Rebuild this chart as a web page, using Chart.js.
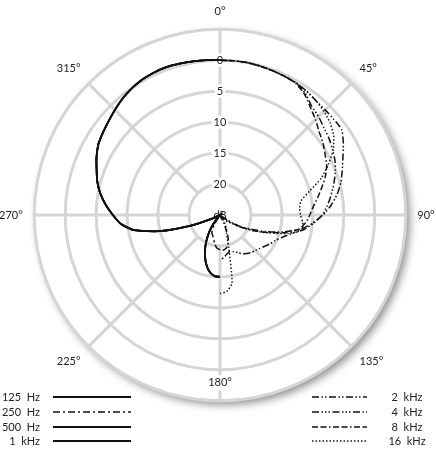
<!DOCTYPE html>
<html>
<head>
<meta charset="utf-8">
<script src="https://cdn.jsdelivr.net/npm/chart.js@4.4.0/dist/chart.umd.min.js"></script>
<style>
  html, body { margin: 0; padding: 0; background: #fff; overflow: hidden; }
  #wrap { position: relative; width: 436px; height: 450px; overflow: hidden; }
  /* canvas un peu plus grand que la fenêtre pour laisser la place aux étiquettes */
  #polar { position: absolute; left: -4px; top: -15px; }
  .legText { position: absolute; font: 11px Lato, sans-serif; color: #222; white-space: pre; height: 14px; line-height: 14px; }
  .legLine { position: absolute; height: 6px; }
</style>
</head>
<body>
<div id="wrap">
  <canvas id="polar" width="443" height="443"></canvas>
</div>
<script>
// ---------- données ----------
// angles du diagramme, pas de 5°
const angles = [];
for (let a = 0; a < 360; a += 5) angles.push(a);

// moitié gauche : 180°, 185° ... 355°, 360° (niveau en dB)
const lvl125 = [-15.0, -15.1, -15.6, -16.6, -17.9, -19.4, -21.0, -22.6, -24.2, -25, -25, -25, -25, -23.6, -20.0, -14.9,
  -10.9, -8.9, -7.7, -6.5, -5.4, -4.5, -3.8, -3.0, -2.3, -1.9, -1.5, -1.0, -0.5, -0.1, 0.2, 0.35, 0.4, 0.3, 0.2, 0.1, 0];
const lvl250 = [-19.4, -19.6, -20.2, -21.0, -21.5, -21.9, -23.0, -24.5, -25, -25, -25, -25, -25, -23.6, -20.0, -14.9,
  -10.9, -8.9, -7.7, -6.5, -5.4, -4.5, -3.8, -3.0, -2.3, -1.9, -1.5, -1.0, -0.5, -0.1, 0.2, 0.35, 0.4, 0.3, 0.2, 0.1, 0];
const lvl500 = [-15.0, -15.1, -15.6, -16.6, -17.9, -19.4, -21.0, -22.6, -24.2, -25, -25, -25, -25, -23.6, -20.0, -14.9,
  -10.9, -8.9, -7.7, -6.5, -5.4, -4.5, -3.8, -3.0, -2.3, -1.9, -1.5, -1.0, -0.5, -0.1, 0.2, 0.35, 0.4, 0.3, 0.2, 0.1, 0];
const lvl1k = [-15.0, -15.1, -15.6, -16.6, -17.9, -19.4, -21.0, -22.6, -24.2, -25, -25, -25, -25, -23.6, -20.0, -14.9,
  -10.9, -8.9, -7.7, -6.5, -5.4, -4.5, -3.8, -3.0, -2.3, -1.9, -1.5, -1.0, -0.5, -0.1, 0.2, 0.35, 0.4, 0.3, 0.2, 0.1, 0];

// moitié droite : 0°, 5° ... 180°
const lvl2k = [0, 0, 0, -0.1, -0.2, -0.3, -0.4, -0.6, -0.9, -1.0, -1.0, -1.0, -2.0, -3.1, -4.0, -4.8, -5.8, -7.0, -8.4,
  -10.0, -11.8, -14.5, -17.2, -19.6, -21.5, -23.5, -25, -25, -25, -25, -25, -25, -25, -25, -25, -25, -25];
const lvl4k = [0, 0, 0, -0.1, -0.2, -0.3, -0.4, -1.0, -2.0, -2.5, -3.1, -3.5, -4.0, -4.5, -5.2, -6.0, -6.8, -7.6, -8.5,
  -9.8, -11.3, -13.2, -14.4, -15.2, -15.7, -16.2, -16.6, -16.9, -17.1, -17.4, -17.8, -18.3, -18.7, -18.9, -18.6, -18.1, -17.7];
const lvl8k = [0, 0, 0, -0.1, -0.2, -0.3, -0.5, -1.2, -2.3, -3.2, -4.1, -4.7, -5.4, -6.0, -6.9, -8.0, -9.0, -9.9, -10.5,
  -11.1, -12.0, -14.0, -16.8, -19.0, -21.0, -23.0, -24.5, -25, -25, -25, -25, -23.5, -21.2, -20.0, -19.5, -19.3, -19.3];
const lvl16k = [0, 0, 0, -0.1, -0.2, -0.3, -0.4, -0.6, -0.9, -1.3, -1.8, -2.6, -3.9, -5.7, -7.6, -10.0, -11.7, -12.1, -12.0,
  -11.6, -11.5, -13.5, -16.5, -19.0, -21.0, -22.5, -23.3, -23.8, -24.0, -24.0, -23.5, -22.5, -22.0, -19.5, -13.8, -12.6, -12.3];

const leftNames = ['125  Hz', '250  Hz', '500  Hz', '1  kHz'];
const rightNames = ['2  kHz', '4  kHz', '8  kHz', '16  kHz'];

// styles de trait
const dashes = {
  '125  Hz': [], '250  Hz': [7, 3, 2, 3], '500  Hz': [], '1  kHz': [],
  '2  kHz': [7, 2.5, 1.5, 2, 1.5, 2.5], '4  kHz': [7, 2.5, 1.5, 2, 1.5, 2, 1.5, 2.5],
  '8  kHz': [6, 2.5, 6, 2.5, 1.5, 2.5], '16  kHz': [1.5, 2]
};

// ---------- construction des séries ----------
function leftHalf(vals) {
  return angles.map((a, i) => a === 0 ? vals[36] : (a >= 180 ? vals[i - 36] : null));
}
function rightHalf(vals) {
  return angles.map((a, i) => a <= 180 ? vals[i] : null);
}

const seriesLeft = [lvl125, lvl250, lvl500, lvl1k];
const seriesRight = [lvl2k, lvl4k, lvl8k, lvl16k];

const datasets = [];
leftNames.forEach((n, k) => datasets.push({ label: n, data: leftHalf(seriesLeft[k]) }));
rightNames.forEach((n, k) => datasets.push({ label: n, data: rightHalf(seriesRight[k]) }));
datasets.forEach(ds => {
  ds.borderColor = '#111';
  ds.borderWidth = dashes[ds.label].length ? 1.5 : 1.8;
  ds.borderDash = dashes[ds.label];
  ds.pointRadius = 0;
  ds.fill = false;
  ds.tension = 0.2;
  ds.spanGaps = false;
});

const gridColor = '#d5d5d5';

// cercle extérieur ombré + rayons tous les 45°
const fondPolaire = {
  id: 'fondPolaire',
  beforeDraw(chart) {
    const s = chart.scales.r;
    const ctx = chart.ctx;
    ctx.save();
    ctx.beginPath();
    ctx.arc(s.xCenter, s.yCenter, s.drawingArea, 0, Math.PI * 2);
    ctx.fillStyle = '#fff';
    ctx.shadowColor = 'rgba(0,0,0,0.45)';
    ctx.shadowBlur = 9;
    ctx.shadowOffsetX = 4;
    ctx.shadowOffsetY = 4;
    ctx.fill();
    ctx.restore();

    ctx.save();
    ctx.strokeStyle = gridColor;
    ctx.lineWidth = 3;
    const r0 = s.getDistanceFromCenterForValue(-20);
    for (let i = 0; i < angles.length; i++) {
      if (angles[i] % 45 !== 0) continue;
      const p1 = s.getPointPosition(i, r0);
      const p2 = s.getPointPosition(i, s.drawingArea);
      ctx.beginPath();
      ctx.moveTo(p1.x, p1.y);
      ctx.lineTo(p2.x, p2.y);
      ctx.stroke();
    }
    ctx.restore();
  }
};

new Chart(document.getElementById('polar'), {
  type: 'radar',
  data: { labels: angles, datasets: datasets },
  options: {
    responsive: false,
    animation: false,
    devicePixelRatio: 1,
    plugins: { legend: { display: false }, tooltip: { enabled: false } },
    elements: { line: { borderCapStyle: 'butt' } },
    scales: {
      r: {
        min: -25,
        max: 5,
        startAngle: 0,
        grid: { color: gridColor, lineWidth: 3, circular: true },
        angleLines: { display: false },
        ticks: {
          stepSize: 5,
          color: '#222',
          font: { family: 'Lato', size: 11 },
          backdropColor: '#fff',
          backdropPadding: { x: 2, y: 1 },
          showLabelBackdrop: (c) => c.tick && c.tick.value < 5,
          callback: (v) => v === -25 ? 'dB' : (v > 0 ? '' : String(-v))
        },
        pointLabels: {
          color: '#222',
          font: { family: 'Lato', size: 11 },
          // 180° est écrit à l'intérieur du cercle, les autres juste à l'extérieur
          padding: (c) => angles[c.index] % 45 !== 0 ? -100 : (angles[c.index] === 180 ? -31 : 5),
          backdropColor: (c) => angles[c.index] === 180 ? '#fff' : null,
          backdropPadding: 1,
          callback: (label) => label % 45 === 0 ? label + '°' : ''
        }
      }
    }
  },
  plugins: [fondPolaire]
});

// ---------- légende ----------
const wrap = document.getElementById('wrap');
const rowsY = [397, 412, 426.5, 441];
function legendLine(x, y, w, dash) {
  const ns = 'http://www.w3.org/2000/svg';
  const svg = document.createElementNS(ns, 'svg');
  svg.setAttribute('width', w);
  svg.setAttribute('height', 6);
  svg.setAttribute('class', 'legLine');
  svg.style.left = x + 'px';
  svg.style.top = (y - 3) + 'px';
  const l = document.createElementNS(ns, 'line');
  l.setAttribute('x1', 0); l.setAttribute('y1', 3);
  l.setAttribute('x2', w); l.setAttribute('y2', 3);
  l.setAttribute('stroke', '#111');
  l.setAttribute('stroke-width', dash.length ? 1.6 : 1.8);
  if (dash.length) l.setAttribute('stroke-dasharray', dash.join(' '));
  svg.appendChild(l);
  wrap.appendChild(svg);
}
function legendText(txt, x, y, w, align) {
  const d = document.createElement('div');
  d.className = 'legText';
  d.textContent = txt;
  d.style.left = x + 'px';
  d.style.top = (y - 7) + 'px';
  d.style.width = w + 'px';
  d.style.textAlign = align;
  wrap.appendChild(d);
}
leftNames.forEach((n, k) => {
  legendText(n, 0, rowsY[k], 40, 'right');
  legendLine(53, rowsY[k], 78, dashes[n]);
});
rightNames.forEach((n, k) => {
  legendLine(312, rowsY[k], 55, dashes[n]);
  legendText(n, 380, rowsY[k], 54, 'center');
});
</script>
</body>
</html>
